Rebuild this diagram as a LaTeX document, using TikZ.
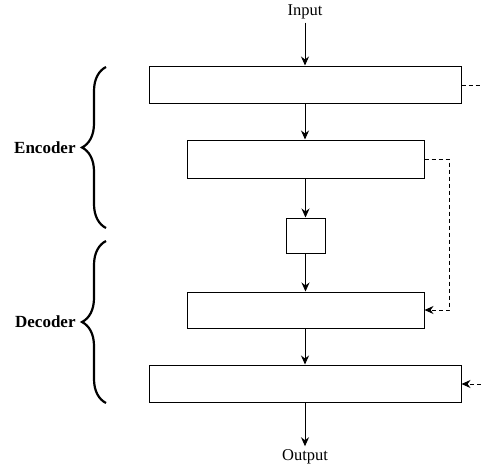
\documentclass[tikz,border=0pt]{standalone}
\usepackage{fontspec}
\setmainfont{Liberation Serif}
\usetikzlibrary{arrows.meta,decorations.pathreplacing}

\begin{document}
\begin{tikzpicture}[x=1pt, y=-1pt,
  every node/.style={font=\fontsize{16.5}{19}\selectfont},
  layer/.style={draw, line width=1pt, inner sep=0pt},
  flow/.style={-{Stealth[length=9pt,width=8pt]}, line width=1pt},
  skip/.style={-{Stealth[length=9pt,width=8pt]}, line width=1pt, dashed, dash pattern=on 4pt off 3pt},
  part/.style={decorate, decoration={brace, amplitude=24pt}, line width=2.2pt},
  partname/.style={left=26pt, font=\fontsize{17}{20}\selectfont\bfseries},
]
  \useasboundingbox (0,0) rectangle (481,469);

  \node (input) at (305,12) {Input};
  \node[layer, minimum width=312pt, minimum height=37pt] (enc1) at (305,84.5) {};
  \node[layer, minimum width=237pt, minimum height=38pt] (enc2) at (305.5,159) {};
  \node[layer, minimum width=39pt, minimum height=35pt] (lat) at (305.5,235.5) {};
  \node[layer, minimum width=237pt, minimum height=36pt] (dec1) at (305.5,310) {};
  \node[layer, minimum width=312pt, minimum height=37pt] (dec2) at (305,383.5) {};
  \node (output) at (305,457) {Output};

  \draw[flow] (input) -- (enc1);
  \draw[flow] (enc1) -- (enc1 |- enc2.north);
  \draw[flow] (enc2.south -| lat) -- (lat);
  \draw[flow] (lat) -- (dec1.north -| lat);
  \draw[flow] (dec1.south -| enc1) -- (dec2);
  \draw[flow] (dec2) -- (output);

  % skip connections
  \coordinate (out1) at (481,85);
  \coordinate (in2) at (481,384);
  \draw[skip, -] (enc1.east |- out1) -- (out1);
  \draw[skip] (enc2.east) -- (449,159) |- (dec1.east);
  \draw[skip] (in2) -- (dec2.east |- in2);

  % braces
  \draw[part] (106,228) -- node[partname] {Encoder} (106,67);
  \draw[part] (106,403) -- node[partname] {Decoder} (106,241);
\end{tikzpicture}
\end{document}
